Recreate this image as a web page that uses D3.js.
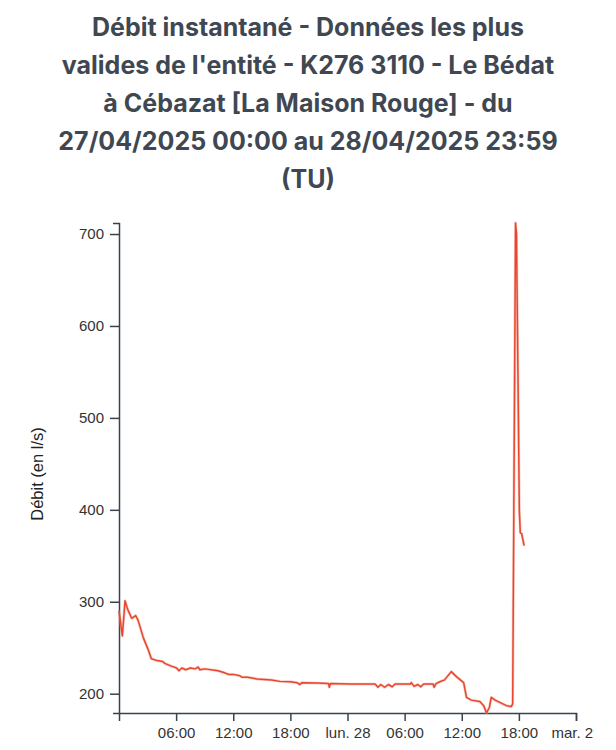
<!DOCTYPE html>
<html>
<head>
<meta charset="utf-8">
<script src="https://cdn.jsdelivr.net/npm/d3@7"></script>
<style>
  html, body { margin: 0; padding: 0; background: #fff; }
  svg { display: block; overflow: hidden; }
</style>
</head>
<body>
<script>
const titleLines = [
  "Débit instantané - Données les plus",
  "valides de l'entité - K276 3110 - Le Bédat",
  "à Cébazat [La Maison Rouge] - du",
  "27/04/2025 00:00 au 28/04/2025 23:59",
  "(TU)"
];
const yLabel = "Débit (en l/s)";

const times = [
  "2025-04-27T00:00","2025-04-27T00:21","2025-04-27T00:38","2025-04-27T00:54","2025-04-27T01:20",
  "2025-04-27T01:45","2025-04-27T02:00","2025-04-27T02:33","2025-04-27T03:06","2025-04-27T03:24",
  "2025-04-27T04:00","2025-04-27T04:36","2025-04-27T04:48","2025-04-27T05:30","2025-04-27T06:03",
  "2025-04-27T06:18","2025-04-27T06:36","2025-04-27T07:00","2025-04-27T07:30","2025-04-27T08:00",
  "2025-04-27T08:18","2025-04-27T08:30","2025-04-27T09:00","2025-04-27T10:24","2025-04-27T11:00",
  "2025-04-27T11:30","2025-04-27T12:00","2025-04-27T12:42","2025-04-27T12:54","2025-04-27T13:30",
  "2025-04-27T14:30","2025-04-27T16:00","2025-04-27T16:54","2025-04-27T18:00","2025-04-27T18:42",
  "2025-04-27T19:00","2025-04-27T19:12","2025-04-27T20:48","2025-04-27T22:00","2025-04-27T22:06",
  "2025-04-27T22:12","2025-04-28T00:18","2025-04-28T02:54","2025-04-28T03:12","2025-04-28T03:30",
  "2025-04-28T03:54","2025-04-28T04:18","2025-04-28T04:42","2025-04-28T05:00","2025-04-28T06:36",
  "2025-04-28T06:42","2025-04-28T07:00","2025-04-28T07:24","2025-04-28T07:42","2025-04-28T08:00",
  "2025-04-28T09:00","2025-04-28T09:06","2025-04-28T09:18","2025-04-28T09:42","2025-04-28T10:12",
  "2025-04-28T10:54","2025-04-28T11:30","2025-04-28T12:12","2025-04-28T12:30","2025-04-28T13:00",
  "2025-04-28T13:54","2025-04-28T14:18","2025-04-28T14:36","2025-04-28T14:54","2025-04-28T15:06",
  "2025-04-28T15:30","2025-04-28T16:00","2025-04-28T16:42","2025-04-28T17:12","2025-04-28T17:21",
  "2025-04-28T17:39","2025-04-28T17:45","2025-04-28T18:03","2025-04-28T18:09","2025-04-28T18:18",
  "2025-04-28T18:33"
];
const values = [
  290, 263, 301, 292, 282,
  285, 280, 261, 247, 238,
  236, 235, 233, 230, 228,
  225, 228, 226, 228, 227,
  229, 226, 227, 225, 223,
  221, 221, 219.5, 218, 218,
  216, 215, 213.4, 213, 212,
  210, 212, 211.5, 211, 207,
  211, 210.5, 210.5, 207, 210,
  207, 210, 207.5, 210.5, 210.5,
  212, 208, 210, 207.5, 210.5,
  210.5, 207, 211, 213, 215,
  224, 218, 212, 196, 193,
  191.5, 187, 179, 185, 196,
  193, 190.5, 187, 186, 189,
  712, 700, 399, 375, 374,
  361
];

const yTicks = [200, 300, 400, 500, 600, 700];
const xTickTimes = [
  "2025-04-27T06:00","2025-04-27T12:00","2025-04-27T18:00","2025-04-28T00:00",
  "2025-04-28T06:00","2025-04-28T12:00","2025-04-28T18:00","2025-04-29T00:00"
];
const xTickLabels = ["06:00","12:00","18:00","lun. 28","06:00","12:00","18:00","mar. 29"];
const xStart = "2025-04-27T00:00";
const xEnd = "2025-04-29T00:00";

const parse = d3.utcParse("%Y-%m-%dT%H:%M");
const data = times.map((t, i) => ({ t: parse(t), v: values[i] }));

const W = 594, H = 750;
const svg = d3.select("body").append("svg").attr("width", W).attr("height", H);

const axisColor = "#39434d";
const textColor = "#333";

// Title
const title = svg.append("text")
  .attr("x", 308)
  .attr("text-anchor", "middle")
  .attr("font-family", "Inter, 'Noto Sans', sans-serif")
  .attr("font-weight", 700)
  .attr("font-size", 25)
  .attr("fill", "#3f4852");
titleLines.forEach((l, i) => {
  title.append("tspan").attr("x", 308).attr("y", 36 + i * 38).text(l);
});

const x = d3.scaleUtc().domain([parse(xStart), parse(xEnd)]).range([119, 576]);
const y = d3.scaleLinear().domain(d3.extent(values)).range([713, 223]);

// Y axis
const yAxis = svg.append("g").attr("transform", "translate(119,0)")
  .call(d3.axisLeft(y).tickValues(yTicks).tickSize(9).tickSizeOuter(6).tickPadding(6).tickFormat(d3.format("d")));
yAxis.selectAll("path, line").attr("stroke", axisColor).attr("stroke-width", 1.5);
yAxis.selectAll("text").attr("font-family", "'Liberation Sans', Arial, sans-serif").attr("font-size", 15).attr("fill", textColor);

// X axis
const xAxis = svg.append("g").attr("transform", "translate(0,713)")
  .call(d3.axisBottom(x).tickValues(xTickTimes.map(parse)).tickSize(8).tickSizeOuter(8).tickPadding(6)
    .tickFormat((d, i) => xTickLabels[i]));
xAxis.selectAll("path, line").attr("stroke", axisColor).attr("stroke-width", 1.5);
xAxis.selectAll("text").attr("font-family", "'Liberation Sans', Arial, sans-serif").attr("font-size", 15).attr("fill", textColor);

// Y label
svg.append("text")
  .attr("transform", "translate(43,474) rotate(-90)")
  .attr("text-anchor", "middle")
  .attr("font-family", "'Liberation Sans', Arial, sans-serif")
  .attr("font-size", 16.5)
  .attr("fill", "#222")
  .text(yLabel);

// Line
const line = d3.line().x(d => x(d.t)).y(d => y(d.v));
svg.append("path").datum(data)
  .attr("d", line)
  .attr("fill", "none")
  .attr("stroke", "#f08a78")
  .attr("stroke-width", 2.8)
  .attr("stroke-opacity", 0.45)
  .attr("stroke-linejoin", "round");
svg.append("path").datum(data)
  .attr("d", line)
  .attr("fill", "none")
  .attr("stroke", "#e8472f")
  .attr("stroke-width", 1.5)
  .attr("stroke-linejoin", "round");
</script>
</body>
</html>
